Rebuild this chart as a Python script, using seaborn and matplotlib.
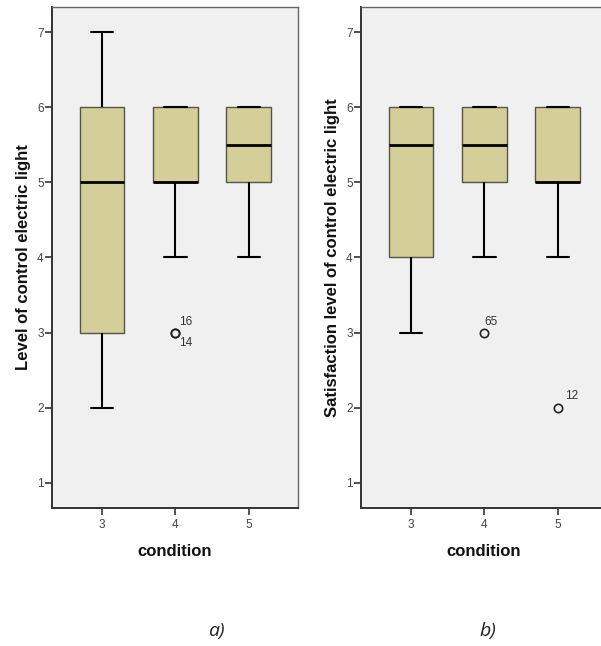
import matplotlib
matplotlib.use("Agg")
import matplotlib.pyplot as plt
import seaborn as sns
import pandas as pd
import numpy as np

# ---- data (raw scores per condition, chosen to reproduce the box statistics) ----
conditions = ["3", "4", "5"]

control_c3 = [2, 3, 3, 4, 5, 5, 6, 6, 7]
control_c4 = [3, 3, 4, 5, 5, 5, 5, 5, 6, 6, 6, 6, 6]
control_c5 = [4, 5, 5, 5, 6, 6, 6, 6]

satisf_c3 = [3, 4, 4, 5, 6, 6, 6, 6]
satisf_c4 = [3, 4, 5, 5, 5, 6, 6, 6, 6, 6]
satisf_c5 = [2, 4, 5, 5, 5, 5, 6, 6, 6]

# outlier case labels: (condition, value, label, dx, dy in points)
control_outlier_labels = [("4", 3, "16", 3, 3), ("4", 3, "14", 3, -12)]
satisf_outlier_labels = [("4", 3, "65", 0, 3), ("5", 2, "12", 5, 4)]

y_ticks = [1, 2, 3, 4, 5, 6, 7]
ylabel_a = "Level of control electric light"
ylabel_b = "Satisfaction level of control electric light"
xlabel = "condition"
captions = ["a)", "b)"]
caption_x_px = [216, 488]


def to_frame(c3, c4, c5):
    return pd.DataFrame({
        "condition": ["3"] * len(c3) + ["4"] * len(c4) + ["5"] * len(c5),
        "value": list(c3) + list(c4) + list(c5),
    })


df_a = to_frame(control_c3, control_c4, control_c5)
df_b = to_frame(satisf_c3, satisf_c4, satisf_c5)

sns.set_theme(style="white")
plt.rcParams["font.family"] = ["Liberation Sans", "DejaVu Sans"]

fig = plt.figure(figsize=(6.01, 6.46), dpi=100)
fig.patch.set_facecolor("white")

W, H = 601, 646
ax_a = fig.add_axes([52 / W, (H - 508) / H, 246 / W, 501 / H])
ax_b = fig.add_axes([361 / W, (H - 508) / H, 246 / W, 501 / H])

box_color = "#d4ce98"
edge_color = "#55554a"

for ax, df, ylab, labels, cap, cx in [
    (ax_a, df_a, ylabel_a, control_outlier_labels, captions[0], caption_x_px[0]),
    (ax_b, df_b, ylabel_b, satisf_outlier_labels, captions[1], caption_x_px[1]),
]:
    ax.set_facecolor("#f0f0f0")
    sns.boxplot(
        data=df, x="condition", y="value", order=conditions, ax=ax,
        color=box_color, width=0.61, whis=1.5, linewidth=1.0,
        boxprops=dict(facecolor=box_color, edgecolor=edge_color, linewidth=1.0),
        medianprops=dict(color="black", linewidth=2.0),
        whiskerprops=dict(color="black", linewidth=1.5),
        capprops=dict(color="black", linewidth=1.5),
        flierprops=dict(marker="o", markersize=6, markerfacecolor="none",
                        markeredgecolor="#222222", markeredgewidth=1.2),
    )
    for cond, val, txt, dx, dy in labels:
        ax.annotate(txt, xy=(conditions.index(cond), val), xytext=(dx, dy),
                    textcoords="offset points", fontsize=8.5, color="#333333",
                    ha="left", va="bottom")
    ax.set_ylim(0.667, 7.333)
    ax.set_xlim(-0.68, 2.67)
    ax.set_yticks(y_ticks)
    ax.set_yticklabels([str(t) for t in y_ticks])
    ax.tick_params(axis="both", which="both", direction="out", length=5, width=1.2,
                   color="#333333", labelsize=8.5, labelcolor="#444444", pad=1,
                   left=True, bottom=True)
    ax.tick_params(axis="x", pad=3)
    ax.set_ylabel(ylab, fontsize=12, fontweight="bold", color="#111111", labelpad=4)
    ax.set_xlabel(xlabel, fontsize=12, fontweight="bold", color="#111111", labelpad=9)
    for name, s in ax.spines.items():
        if name in ("left", "bottom"):
            s.set_color("#333333")
            s.set_linewidth(1.4)
        else:
            s.set_color("#666666")
            s.set_linewidth(1.0)
    fig.text(cx / W, 1 - 631 / H, cap, ha="center", va="center",
             fontsize=14, style="italic", family=["Open Sans", "DejaVu Sans"],
             color="#222222")

fig.savefig("out.png", dpi=100, facecolor="white")
